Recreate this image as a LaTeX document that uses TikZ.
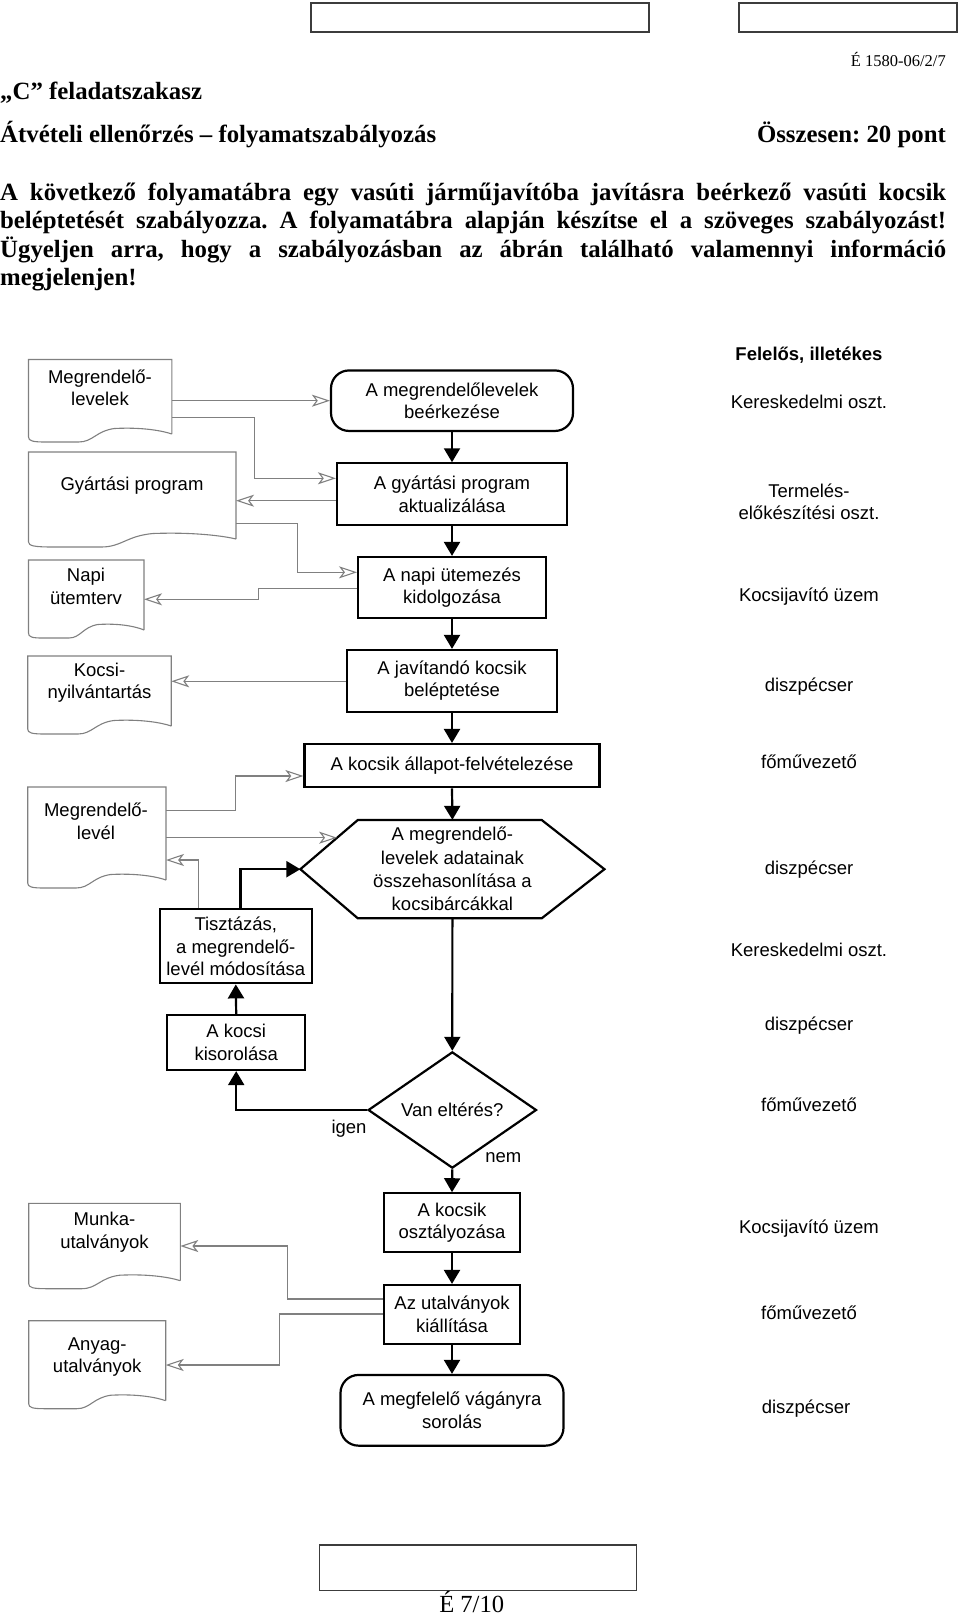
\documentclass[tikz,border=0pt]{standalone}
\usepackage{fontspec}
\setmainfont{Liberation Serif}
\setsansfont{Liberation Sans}
\usetikzlibrary{arrows.meta,calc,shapes.geometric}
\definecolor{cgray}{RGB}{128,128,128}
\definecolor{cbox}{RGB}{60,60,60}
\frenchspacing
\newcommand\sfn{\sffamily\fontsize{18.5}{22.5}\selectfont}
\newcommand\mydoc[5]{%
  \node[docbox, minimum width={(#4)-(#2)}, minimum height={(#5)-(#3)}] (#1) at ({((#2)+(#4))/2},{((#3)+(#5))/2}) {};
  \draw[docline] (#4,#5) -- (#4,#3) -- (#2,#3) -- (#2,{#5+3})
    .. controls (#2,{#5+7}) and ({#2+0.03*(#4-#2)},{#5+8}) .. ({#2+0.12*(#4-#2)},{#5+8})
    -- ({#2+0.35*(#4-#2)},{#5+8})
    .. controls ({#2+0.45*(#4-#2)},{#5+8}) and ({#2+0.47*(#4-#2)},{#5-3}) .. ({#2+0.6*(#4-#2)},{#5-5.5})
    .. controls ({#2+0.8*(#4-#2)},{#5-7}) and ({#4-0.06*(#4-#2)},{#5-3}) .. (#4,#5);
}
\tikzset{
  proc/.style={draw=black, line width=2.2pt, inner sep=0pt, align=center, font=\sfn},
  term/.style={proc, rounded corners=18pt},
  lab/.style={inner sep=0pt, align=center, font=\sfn},
  docbox/.style={inner sep=0pt, outer sep=0pt},
  docline/.style={draw=cgray, line width=1.1pt},
  garrow/.style={draw=cgray, line width=1.1pt, -{Stealth[open, length=18pt, width=12pt, inset=4.5pt]}},
  barrow/.style={draw=black, line width=2.2pt, -{Triangle[length=14pt, width=16pt]}},
  hbox/.style={draw=cbox, line width=1.4pt, inner sep=0pt},
  serifb/.style={inner sep=0pt, font=\rmfamily\bfseries\fontsize{24.8}{28.5}\selectfont, text height=0.68em, text depth=0.22em},
  serifr/.style={inner sep=0pt, font=\rmfamily\fontsize{16.5}{19}\selectfont},
}
\begin{document}
\begin{tikzpicture}[x=1pt,y=-1pt]
\useasboundingbox (0,0) rectangle (960,1616);
% header
\node[hbox, minimum width=338pt, minimum height=29pt] (hb1) at (480,17.5) {};
\node[hbox, minimum width=218pt, minimum height=29pt] (hb2) at (848,17.5) {};
\node[serifr, anchor=east] (code) at (946,60) {É 1580-06/2/7};
\node[serifb, anchor=west] (sec) at (0,97) {„C” feladatszakasz};
\node[serifb, anchor=west] (title) at (0,140) {Átvételi ellenőrzés – folyamatszabályozás};
\node[serifb, anchor=east] (pts) at (946,140) {Összesen: 20 pont};
\node[serifb, anchor=west] (p1) at (0,198) {\makebox[946pt][s]{A következő folyamatábra egy vasúti járműjavítóba javításra beérkező vasúti kocsik}};
\node[serifb, anchor=west] (p2) at (0,226.5) {\makebox[946pt][s]{beléptetését szabályozza. A folyamatábra alapján készítse el a szöveges szabályozást!}};
\node[serifb, anchor=west] (p3) at (0,255) {\makebox[946pt][s]{Ügyeljen arra, hogy a szabályozásban az ábrán található valamennyi információ}};
\node[serifb, anchor=west] (p4) at (0,283.5) {megjelenjen!};
% footer
\node[hbox, minimum width=317pt, minimum height=45.7pt] (fb) at (477.8,1567.8) {};
\node[inner sep=0pt, font=\rmfamily\fontsize{24.6}{28}\selectfont] (pg) at (471.7,1602) {É 7/10};

% right column
\node[lab, font=\sffamily\bfseries\fontsize{18.5}{22.5}\selectfont] (r0) at (809,355) {Felelős, illetékes};
\node[lab] (r1) at (809,402) {Kereskedelmi oszt.};
\node[lab] (r2) at (809,502) {Termelés-\\előkészítési oszt.};
\node[lab] (r3) at (809,597) {Kocsijavító üzem};
\node[lab] (r4) at (809,687) {diszpécser};
\node[lab] (r5) at (809,762) {főművezető};
\node[lab] (r6) at (809,870) {diszpécser};
\node[lab] (r7) at (809,950) {Kereskedelmi oszt.};
\node[lab] (r8) at (809,1026) {diszpécser};
\node[lab] (r9) at (809,1105) {főművezető};
\node[lab] (r10) at (809,1229) {Kocsijavító üzem};
\node[lab] (r11) at (809,1313) {főművezető};
\node[lab] (r12) at (806,1409) {diszpécser};

% main column
\node[term, minimum width=242pt, minimum height=60.5pt] (t1) at (452,400.7) {A megrendelőlevelek\\beérkezése};
\node[proc, minimum width=230pt, minimum height=61.7pt] (b2) at (452,494.2) {A gyártási program\\aktualizálása};
\node[proc, minimum width=187.7pt, minimum height=61pt] (b3) at (452,587.5) {A napi ütemezés\\kidolgozása};
\node[proc, minimum width=209.7pt, minimum height=61.7pt] (b4) at (452,680.8) {A javítandó kocsik\\beléptetése};
\node[proc, minimum width=295pt, minimum height=43.3pt] (b5) at (452,765.7) {A kocsik állapot-felvételezése};
\node[lab, minimum width=303.7pt, minimum height=98.3pt, font=\sffamily\fontsize{18.5}{23.3}\selectfont] (hex) at (452.4,869.2) {A megrendelő-\\levelek adatainak\\összehasonlítása a\\kocsibárcákkal};
\coordinate (hexTL) at (357.8,820);
\draw[draw=black, line width=2.2pt, line join=miter] (hex.west) -- (hexTL) -- (541.7,820) -- (hex.east) -- (541.7,918.3) -- (357.8,918.3) -- cycle;
\node[proc, minimum width=151.6pt, minimum height=74pt] (b6) at (235.8,946.3) {Tisztázás,\\a megrendelő-\\levél módosítása};
\node[proc, minimum width=137.7pt, minimum height=55pt] (b7) at (236.2,1042.5) {A kocsi\\kisorolása};
\node[diamond, draw=black, line width=2.2pt, inner sep=0pt, minimum width=168.4pt, minimum height=100pt, font=\sfn] (dia) at (452.3,1110) {Van eltérés?};
\node[proc, minimum width=136.6pt, minimum height=59pt] (b8) at (452,1222.8) {A kocsik\\osztályozása};
\node[proc, minimum width=136.6pt, minimum height=59pt] (b9) at (452,1314.5) {Az utalványok\\kiállítása};
\node[term, minimum width=223pt, minimum height=70.7pt] (t2) at (452,1410.3) {A megfelelő vágányra\\sorolás};
\node[lab] (igen) at (349,1128.3) {igen};
\node[lab] (nem) at (503.3,1157.7) {nem};

% documents
\mydoc{d1}{28.5}{359.5}{171.8}{434}
\node[lab] (d1t) at (100,388) {Megrendelő-\\levelek};
\mydoc{d2}{28.5}{452}{236}{539}
\node[lab] (d2t) at (132,486) {Gyártási program};
\mydoc{d3}{28.5}{560}{144}{630}
\node[lab] (d3t) at (86,586.3) {Napi\\ütemterv};
\mydoc{d4}{27.7}{656}{171.2}{726}
\node[lab] (d4t) at (99.5,682.8) {Kocsi-\\nyilvántartás};
\mydoc{d5}{27.7}{787}{166}{880}
\node[lab] (d5t) at (96,821.3) {Megrendelő-\\levél};
\mydoc{d6}{28.7}{1203.3}{180.3}{1280.7}
\node[lab] (d6t) at (104.5,1232) {Munka-\\utalványok};
\mydoc{d7}{28.7}{1320.7}{165.7}{1400.7}
\node[lab] (d7t) at (97.2,1357) {Anyag-\\utalványok};

% black flow arrows
\draw[barrow] (t1.south) -- (b2.north);
\draw[barrow] (b2.south) -- (b3.north);
\draw[barrow] (b3.south) -- (b4.north);
\draw[barrow] (b4.south) -- (b5.north);
\draw[barrow] (b5.south) -- (hex.north);
\draw[barrow] (hex.south) -- (dia.north);
\draw[barrow] (dia.south) -- (b8.north);
\draw[barrow] (b8.south) -- (b9.north);
\draw[barrow] (b9.south) -- (t2.north);
\draw[barrow] (b7.north) -- (b6.south);
\draw[barrow] (dia.west) -| (b7.south);
\draw[barrow] ([xshift=4.7pt]b6.north) |- (hex.west);

% gray information arrows
\draw[garrow] (d1.east |- t1.west) -- (t1.west);
\draw[garrow] (d1.east |- 0,417.3) -| (254.5,478.3) -- (b2.west |- 0,478.3);
\draw[garrow] (b2.west |- 0,500.7) -- (d2.east |- 0,500.7);
\draw[garrow] (d2.east |- 0,523.3) -| (297.7,572.3) -- (b3.west |- 0,572.3);
\draw[garrow] (b3.west |- 0,588.3) -| (258.3,599.3) -- (d3.east |- 0,599.3);
\draw[garrow] (b4.west |- 0,681.3) -- (d4.east |- 0,681.3);
\draw[garrow] (d5.east |- 0,810.7) -| (235.7,776) -- (b5.west |- 0,776);
\coordinate (hexE) at ($(hex.west)!0.64!(hexTL)$);
\draw[garrow] (d5.east |- hexE) -- (hexE);
\draw[garrow] (b6.north -| 198.5,0) |- (d5.east |- 0,860);
\draw[garrow] (b9.west |- 0,1299) -| (287.8,1246) -- (d6.east |- 0,1246);
\draw[garrow] (b9.west |- 0,1314) -| (279.4,1365) -- (d7.east |- 0,1365);
\end{tikzpicture}
\end{document}
